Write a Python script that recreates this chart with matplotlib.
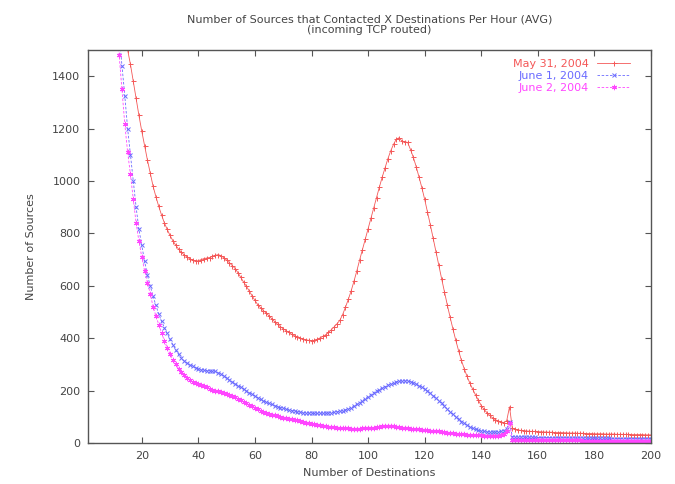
import numpy as np
import matplotlib
matplotlib.use("Agg")
import matplotlib.pyplot as plt

# Number of destinations contacted per hour (x) and average number of sources (y)
destinations = list(range(1, 201))

may31 = [
    9800, 6900, 5200, 4200, 3500, 3000, 2620, 2330, 2100, 1920,
    1780, 1670, 1590, 1540, 1500, 1445, 1380, 1315, 1250, 1190,
    1135, 1080, 1030, 980, 940, 903, 870, 840, 815, 792,
    772, 755, 740, 728, 718, 710, 703, 698, 694, 696,
    700, 704, 706, 708, 712, 716, 719, 715, 707, 698,
    688, 677, 666, 650, 632, 614, 598, 580, 562, 544,
    528, 516, 505, 496, 485, 474, 463, 453, 444, 436,
    429, 422, 415, 409, 404, 400, 397, 394, 392, 390,
    392, 396, 401, 407, 413, 422, 432, 443, 455, 468,
    490, 518, 548, 580, 617, 656, 698, 738, 778, 818,
    858, 897, 937, 977, 1015, 1050, 1085, 1115, 1140, 1160,
    1165, 1152, 1150, 1147, 1120, 1090, 1055, 1015, 975, 930,
    882, 833, 781, 728, 678, 627, 577, 527, 480, 435,
    392, 352, 315, 283, 254, 228, 205, 183, 163, 143,
    128, 116, 105, 96, 89, 84, 80, 78, 85, 138,
    56, 52, 50, 48, 47, 46, 45, 44, 44, 43,
    43, 42, 42, 41, 41, 40, 40, 40, 39, 39,
    38, 38, 38, 37, 37, 37, 36, 36, 36, 35,
    35, 35, 35, 34, 34, 34, 34, 33, 33, 33,
    33, 33, 32, 32, 32, 32, 32, 31, 31, 31,
]

june1 = [
    12000, 8000, 5800, 4500, 3600, 3000, 2550, 2200, 1950, 1780,
    1660, 1560, 1440, 1325, 1200, 1100, 1000, 900, 815, 755,
    694, 640, 600, 560, 525, 492, 465, 440, 418, 396,
    375, 355, 338, 324, 313, 305, 298, 292, 287, 283,
    280, 278, 276, 275, 275, 273, 268, 262, 255, 247,
    240, 233, 226, 219, 212, 205, 198, 192, 186, 179,
    173, 167, 161, 156, 151, 147, 143, 139, 135, 132,
    129, 126, 124, 122, 120, 118, 116, 115, 114, 114,
    113, 113, 113, 114, 114, 115, 116, 117, 119, 121,
    123, 126, 130, 135, 141, 147, 153, 161, 169, 177,
    185, 192, 198, 204, 210, 215, 220, 225, 229, 233,
    235, 237, 237, 236, 234, 230, 225, 219, 213, 206,
    198, 190, 181, 172, 162, 151, 140, 130, 119, 109,
    99, 90, 82, 75, 68, 62, 56, 52, 49, 46,
    44, 43, 42, 42, 42, 43, 44, 47, 55, 80,
    24, 24, 23, 23, 23, 22, 22, 22, 22, 21,
    21, 21, 21, 21, 20, 20, 20, 20, 20, 20,
    19, 19, 19, 19, 19, 19, 19, 18, 18, 18,
    18, 18, 18, 18, 18, 17, 17, 17, 17, 17,
    17, 17, 17, 17, 16, 16, 16, 16, 16, 16,
]

june2 = [
    11000, 7500, 5400, 4200, 3400, 2800, 2350, 2050, 1850, 1700,
    1590, 1480, 1350, 1217, 1110, 1025, 930, 840, 770, 710,
    658, 612, 570, 520, 485, 452, 420, 390, 363, 340,
    318, 300, 284, 270, 258, 248, 240, 233, 228, 224,
    220, 216, 212, 208, 204, 200, 197, 194, 191, 187,
    183, 179, 174, 169, 163, 157, 152, 146, 141, 135,
    129, 124, 119, 115, 111, 108, 105, 102, 100, 97,
    95, 93, 91, 89, 86, 83, 80, 78, 76, 74,
    72, 70, 68, 66, 64, 62, 61, 60, 59, 58,
    57, 56, 56, 55, 55, 55, 55, 56, 56, 57,
    58, 59, 60, 62, 63, 64, 65, 64, 63, 62,
    60, 59, 58, 56, 55, 54, 53, 52, 51, 50,
    49, 47, 46, 45, 44, 42, 41, 40, 38, 37,
    36, 35, 34, 33, 32, 31, 31, 30, 30, 29,
    28, 28, 27, 27, 27, 28, 30, 34, 45, 78,
    12, 12, 12, 12, 11, 11, 11, 11, 11, 11,
    11, 11, 10, 10, 10, 10, 10, 10, 10, 10,
    10, 10, 10, 10, 10, 9, 9, 9, 9, 9,
    9, 9, 9, 9, 9, 9, 9, 9, 9, 9,
    9, 9, 8, 8, 8, 8, 8, 8, 8, 8,
]

series_labels = ["May 31, 2004", "June 1, 2004", "June 2, 2004"]
x_ticks = list(range(20, 201, 20))
y_ticks = list(range(0, 1401, 200))

plt.rcParams['font.family'] = ['DejaVu Sans']

fig = plt.figure(figsize=(6.75, 4.84), dpi=100)
ax = fig.add_axes([0.1304, 0.0847, 0.834, 0.812])

asterisk = (6, 2, 0)
styles = [
    dict(color='#f45858', marker='+', ms=3.6, mew=0.7, lw=0.6, ls='-'),
    dict(color='#6a6aff', marker='x', ms=3.0, mew=0.7, lw=0.6, ls=(0, (3, 2))),
    dict(color='#ff46ff', marker=asterisk, ms=3.8, mew=0.7, lw=0.6, ls=(0, (3, 2))),
]

for data, label, st in zip([may31, june1, june2], series_labels, styles):
    ax.plot(destinations, data, label=label, color=st['color'], marker=st['marker'],
            markersize=st['ms'], markeredgewidth=st['mew'], linewidth=st['lw'],
            linestyle=st['ls'])

ax.set_xlim(1, 200)
ax.set_ylim(0, 1500)
ax.set_xticks(x_ticks)
ax.set_yticks(y_ticks)

frame_col = '#555555'
text_col = '#444444'
for sp in ax.spines.values():
    sp.set_color(frame_col)
    sp.set_linewidth(1.0)
ax.tick_params(direction='in', top=True, right=True, length=4, width=0.8,
               color=frame_col, labelsize=8, labelcolor=text_col, pad=5.5)

ax.set_xlabel("Number of Destinations", fontsize=8, color=text_col, labelpad=5)
ax.set_ylabel("Number of Sources", fontsize=8, color=text_col, labelpad=12)
ax.set_title("Number of Sources that Contacted X Destinations Per Hour (AVG)\n(incoming TCP routed)",
             fontsize=8, color=text_col, pad=12, linespacing=1.1)

leg = ax.legend(loc='upper right', bbox_to_anchor=(0.975, 0.995), frameon=False,
                markerfirst=False, labelcolor='linecolor', fontsize=8,
                handlelength=3.0, handletextpad=0.7, labelspacing=0.18,
                borderaxespad=0.2)
for t in leg.get_texts():
    t.set_ha('right')

fig.savefig("out.png", dpi=100)
